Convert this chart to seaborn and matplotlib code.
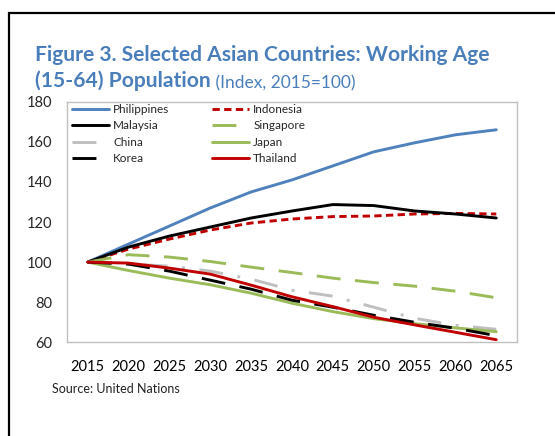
import matplotlib.pyplot as plt
import matplotlib.patches as mpatches
import seaborn as sns
import pandas as pd

# values (index, 2015 = 100)
years = [2015, 2020, 2025, 2030, 2035, 2040, 2045, 2050, 2055, 2060, 2065]
philippines = [100, 109, 118, 127, 135, 141, 148, 155, 159.5, 163.5, 166]
indonesia = [100, 106.5, 111.5, 116, 119.5, 121.5, 122.7, 123, 124, 124.3, 124]
malaysia = [100, 107.5, 113, 117.5, 122, 125.5, 128.7, 128.2, 125.5, 124, 122]
singapore = [100, 103.7, 102.5, 100.3, 97.5, 94.8, 92, 89.8, 88, 85.5, 82.2]
china = [100, 99, 98, 95.5, 91.5, 86, 83, 77.5, 72, 68.5, 66.5]
japan = [100, 95.8, 92, 88.7, 84.5, 79.5, 75.3, 71.8, 69.3, 67.2, 65.3]
korea = [100, 99, 95.5, 91, 86.5, 81, 77.5, 73.5, 70, 67, 63.3]
thailand = [100, 99.5, 97, 94, 88.5, 82.7, 77.8, 72.5, 68.7, 65, 61.3]

countries = ['Philippines', 'Indonesia', 'Malaysia', 'Singapore',
             'China', 'Japan', 'Korea', 'Thailand']
series = [philippines, indonesia, malaysia, singapore, china, japan, korea, thailand]

colors = {'Philippines': '#4F81BD', 'Indonesia': '#C00000', 'Malaysia': '#000000',
          'Singapore': '#9BBB59', 'China': '#BFBFBF', 'Japan': '#9BBB59',
          'Korea': '#000000', 'Thailand': '#C00000'}
dash_styles = {'Philippines': '', 'Indonesia': (2.5, 1.5), 'Malaysia': '',
               'Singapore': (8.2, 5.0), 'China': (8.2, 5.0, 1, 5.0), 'Japan': '',
               'Korea': (8.2, 5.0), 'Thailand': ''}

rows = []
for name, vals in zip(countries, series):
    for yr, v in zip(years, vals):
        rows.append({'Year': yr, 'Index': v, 'Country': name})
df = pd.DataFrame(rows)

sns.set_theme(style="white")
plt.rcParams['font.family'] = ['Lato', 'DejaVu Sans']

fig = plt.figure(figsize=(5.55, 4.36), dpi=100)
ax = fig.add_axes([0.1213, 0.2149, 0.8097, 0.5518])

sns.lineplot(data=df, x='Year', y='Index', hue='Country', style='Country',
             hue_order=countries, style_order=countries, palette=colors,
             dashes=dash_styles, linewidth=2.1, legend=False, ax=ax)

ax.set_xlim(2012.5, 2067.5)
ax.set_ylim(60, 180)
ax.set_xticks(years)
ax.set_xticklabels([str(y) for y in years], fontsize=10.5)
ax.set_xticks([y + 2.5 for y in years[:-1]], minor=True)
ax.set_yticks(range(60, 181, 20))
ax.set_yticklabels([str(v) for v in range(60, 181, 20)], fontsize=10.5)
ax.tick_params(axis='x', which='major', length=0, pad=13, colors='black')
ax.tick_params(axis='x', which='minor', direction='in', length=5, color='#BFBFBF', width=0.8)
ax.tick_params(axis='y', direction='in', length=4, color='#BFBFBF', width=0.8, pad=11)
ax.set_xlabel('')
ax.set_ylabel('')
for sp in ax.spines.values():
    sp.set_color('#BFBFBF')
    sp.set_linewidth(1)

# legend, 2 columns filled row by row like the original
lines = dict(zip(countries, ax.get_lines()))
order = ['Philippines', 'Malaysia', 'China', 'Korea',
         'Indonesia', 'Singapore', 'Japan', 'Thailand']
ax.legend([lines[c] for c in order], order, ncol=2, loc='upper left',
          bbox_to_anchor=(0.01, 0.99), frameon=False, fontsize=8.5,
          handlelength=3.15, handletextpad=0.35, columnspacing=3.6,
          labelspacing=0.45, borderpad=0, borderaxespad=0)

# titles
blue = '#4A7EBB'
fig.text(35 / 555, 1 - 60.7 / 436, 'Figure 3. Selected Asian Countries: Working Age',
         fontsize=15.1, fontweight='bold', color=blue, va='baseline', ha='left')
t2 = fig.text(35 / 555, 1 - 87.3 / 436, '(15-64) Population',
              fontsize=15.1, fontweight='bold', color=blue, va='baseline', ha='left')
ax.annotate(' (Index, 2015=100)', xy=(1, 0), xycoords=t2, va='bottom', ha='left',
            fontsize=12.5, color=blue, annotation_clip=False)

fig.text(52 / 555, 1 - 392.7 / 436, 'Source: United Nations', fontsize=9,
         color='#222222', va='baseline', ha='left')

# outer frame (only left and top edges are inside the picture)
fig.patches.append(mpatches.Rectangle((9 / 555, -0.2), 1.2, 0.2 + (1 - 13 / 436),
                                      transform=fig.transFigure, fill=False,
                                      edgecolor='black', linewidth=1.6))

fig.savefig('out.png', dpi=100)
